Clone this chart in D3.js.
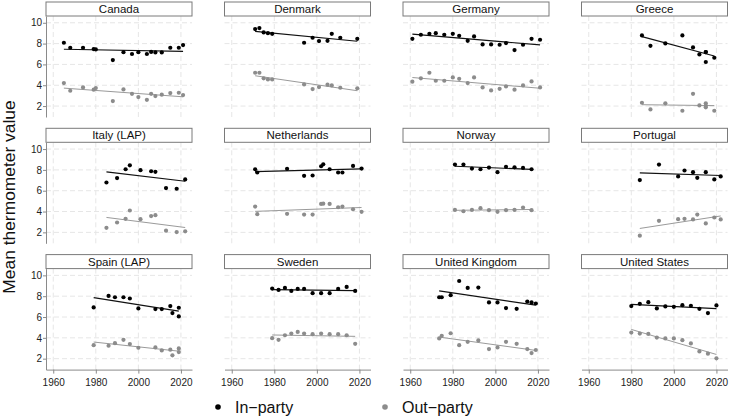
<!DOCTYPE html>
<html>
<head>
<meta charset="utf-8">
<script src="https://cdn.jsdelivr.net/npm/d3@7"></script>
<style>
  body { margin: 0; background: #fff; }
  svg { font-family: "Liberation Sans", Arial, sans-serif; }
</style>
</head>
<body>
<svg width="730" height="418"></svg>
<script>
// panel order, left to right, top to bottom
const countries = ["Canada", "Denmark", "Germany", "Greece",
  "Italy (LAP)", "Netherlands", "Norway", "Portugal",
  "Spain (LAP)", "Sweden", "United Kingdom", "United States"];

const canadaYears = [1965, 1968, 1974, 1979, 1980, 1988, 1993, 1997, 2000, 2004, 2006, 2008, 2011, 2015, 2019, 2021];
const canadaIn    = [8.08, 7.6, 7.6, 7.47, 7.44, 6.42, 7.18, 7.0, 7.18, 7.0, 7.2, 7.15, 7.15, 7.6, 7.6, 7.86];
const canadaOut   = [4.21, 3.47, 3.79, 3.57, 3.73, 2.48, 3.6, 3.18, 2.86, 2.6, 3.18, 2.96, 3.09, 3.25, 3.28, 3.06];

const denmarkYears = [1971, 1973, 1975, 1977, 1979, 1994, 1998, 2001, 2005, 2007, 2011, 2019];
const denmarkIn    = [9.39, 9.49, 9.07, 9.0, 8.94, 8.08, 8.56, 8.24, 8.27, 8.94, 8.56, 8.46];
const denmarkOut   = [5.2, 5.2, 4.66, 4.56, 4.56, 4.08, 3.63, 3.82, 4.05, 3.98, 3.76, 3.7];

const germanyYears = [1961, 1965, 1969, 1972, 1976, 1980, 1983, 1987, 1990, 1994, 1998, 2002, 2005, 2009, 2013, 2017, 2021];
const germanyIn    = [8.46, 8.85, 8.94, 9.0, 8.85, 8.94, 8.75, 8.27, 8.69, 7.92, 7.92, 7.89, 8.05, 7.38, 7.89, 8.46, 8.37];
const germanyOut   = [4.34, 4.66, 5.2, 4.43, 4.43, 4.75, 4.62, 4.21, 4.75, 3.79, 3.5, 3.66, 3.89, 3.57, 3.98, 4.37, 3.79];

const greeceYears = [1985, 1989, 1996, 2004, 2009, 2012, 2015, 2015, 2015, 2019];
const greeceIn    = [8.78, 7.79, 8.02, 8.78, 7.63, 6.96, 7.19, 7.19, 6.23, 6.64];
const greeceOut   = [2.32, 1.68, 2.26, 1.55, 3.18, 2.06, 2.26, 2.03, 1.88, 1.55];

const italyYears = [1985, 1990, 1994, 1996, 2001, 2006, 2008, 2013, 2018, 2022];
const italyIn    = [6.79, 7.21, 8.06, 8.44, 7.97, 7.87, 7.81, 6.25, 6.19, 7.08];
const italyOut   = [2.44, 2.95, 3.3, 4.1, 3.27, 3.56, 3.65, 2.16, 2.03, 2.1];

const netherlandsYears = [1971, 1972, 1986, 1994, 1998, 2002, 2003, 2006, 2010, 2012, 2017, 2021];
const netherlandsIn    = [8.06, 7.75, 8.1, 7.43, 7.46, 8.35, 8.54, 8.06, 7.75, 7.75, 8.38, 8.13];
const netherlandsOut   = [4.48, 3.75, 3.78, 3.71, 3.71, 4.73, 4.76, 4.73, 4.41, 4.48, 4.22, 3.97];

const norwayYears = [1981, 1985, 1989, 1993, 1997, 2001, 2005, 2009, 2013, 2017];
const norwayIn    = [8.51, 8.51, 8.13, 8.06, 8.22, 7.78, 8.29, 8.25, 8.19, 8.06];
const norwayOut   = [4.16, 4.03, 4.16, 4.32, 4.13, 3.97, 4.13, 4.16, 4.38, 4.13];

const portugalYears = [1984, 1993, 2002, 2005, 2009, 2011, 2015, 2019, 2022];
const portugalIn    = [7.02, 8.51, 7.37, 7.94, 7.78, 7.24, 7.78, 7.08, 7.37];
const portugalOut   = [1.68, 3.11, 3.27, 3.3, 3.24, 3.71, 2.86, 3.43, 3.24];

const spainYears = [1979, 1986, 1989, 1993, 1996, 2000, 2008, 2011, 2015, 2016, 2019, 2019];
const spainIn    = [6.92, 8.03, 7.9, 7.9, 7.78, 6.83, 6.76, 6.76, 7.05, 6.38, 6.89, 6.06];
const spainOut   = [3.3, 3.24, 3.49, 3.81, 3.4, 3.05, 3.08, 2.79, 2.86, 2.32, 2.98, 2.63];

const swedenYears = [1979, 1982, 1985, 1988, 1991, 1994, 1998, 2002, 2006, 2010, 2014, 2018];
const swedenIn    = [8.73, 8.6, 8.79, 8.51, 8.7, 8.7, 8.29, 8.29, 8.29, 8.7, 8.89, 8.51];
const swedenOut   = [3.97, 3.81, 4.25, 4.41, 4.57, 4.41, 4.35, 4.41, 4.35, 4.35, 4.25, 3.43];

const ukYears = [1973.6, 1974.8, 1979, 1983, 1987, 1992, 1997, 2001, 2005, 2010, 2015, 2017, 2019];
const ukIn    = [7.9, 7.9, 8.1, 9.46, 8.79, 8.83, 7.4, 7.4, 6.86, 6.79, 7.49, 7.4, 7.3];
const ukOut   = [3.94, 4.19, 4.44, 3.3, 3.62, 3.75, 2.92, 3.08, 3.62, 3.43, 2.92, 2.54, 2.83];

const usYears = [1980, 1984, 1988, 1992, 1996, 2000, 2004, 2008, 2012, 2016, 2020];
const usIn    = [7.05, 7.27, 7.43, 6.83, 7.02, 6.98, 7.14, 7.08, 6.79, 6.38, 7.11];
const usOut   = [4.51, 4.41, 4.38, 4.03, 3.94, 3.94, 3.78, 3.46, 2.7, 2.48, 2.03];

const yTicks = [2, 4, 6, 8, 10];
const xTicks = [1960, 1980, 2000, 2020];
const seriesNames = ["In\u2212party", "Out\u2212party"];

const yearList = [canadaYears, denmarkYears, germanyYears, greeceYears, italyYears, netherlandsYears,
  norwayYears, portugalYears, spainYears, swedenYears, ukYears, usYears];
const inList = [canadaIn, denmarkIn, germanyIn, greeceIn, italyIn, netherlandsIn,
  norwayIn, portugalIn, spainIn, swedenIn, ukIn, usIn];
const outList = [canadaOut, denmarkOut, germanyOut, greeceOut, italyOut, netherlandsOut,
  norwayOut, portugalOut, spainOut, swedenOut, ukOut, usOut];

const panels = countries.map((name, i) => ({
  name: name,
  series: [
    {key: "in", pts: yearList[i].map((yr, j) => ({year: yr, value: inList[i][j]}))},
    {key: "out", pts: yearList[i].map((yr, j) => ({year: yr, value: outList[i][j]}))}
  ]
}));

// layout
const pw = 146, ph = 101, hh = 14;
const colX = [46, 224.5, 403, 581.5];
const rowTop = [2, 128.3, 254.6];

const color = {in: "#000000", out: "#8c8c8c"};
const lineColor = {in: "#111111", out: "#9a9a9a"};
const gridColor = "#e6e6e6";
const axisColor = "#8a8a8a";

const x = d3.scaleLinear().domain([1956.6, 2025.2]).range([0, pw]);
const y = d3.scaleLinear().domain([0.95, 10.65]).range([ph, 0]);

// least squares trend
function fit(pts) {
  const mx = d3.mean(pts, d => d.year), my = d3.mean(pts, d => d.value);
  const sxy = d3.sum(pts, d => (d.year - mx) * (d.value - my));
  const sxx = d3.sum(pts, d => (d.year - mx) * (d.year - mx));
  const b = sxy / sxx, a = my - b * mx;
  const ext = d3.extent(pts, d => d.year);
  return ext.map(yr => ({year: yr, value: a + b * yr}));
}

const line = d3.line().x(d => x(d.year)).y(d => y(d.value));

const svg = d3.select("svg");

panels.forEach((p, i) => {
  const col = i % 4, row = Math.floor(i / 4);
  const g = svg.append("g")
    .attr("transform", "translate(" + colX[col] + "," + (rowTop[row] + hh) + ")");

  // dashed grid
  g.selectAll("line.gy").data(yTicks).join("line")
    .attr("class", "gy")
    .attr("x1", 0).attr("x2", pw)
    .attr("y1", d => y(d)).attr("y2", d => y(d))
    .attr("stroke", gridColor).attr("stroke-dasharray", "5,3");
  g.selectAll("line.gx").data(xTicks).join("line")
    .attr("class", "gx")
    .attr("y1", 0).attr("y2", ph)
    .attr("x1", d => x(d)).attr("x2", d => x(d))
    .attr("stroke", gridColor).attr("stroke-dasharray", "5,3");

  // strip header
  g.append("rect")
    .attr("x", 0).attr("y", -hh).attr("width", pw).attr("height", hh)
    .attr("fill", "#fff").attr("stroke", "#7a7a7a").attr("stroke-width", 1);
  g.append("text")
    .attr("x", pw / 2).attr("y", -hh / 2 + 4)
    .attr("text-anchor", "middle")
    .attr("font-size", 11.5).attr("fill", "#111")
    .text(p.name);

  if (col === 0) {
    const ya = g.append("g").call(d3.axisLeft(y).tickValues(yTicks).tickSize(3).tickSizeOuter(0));
    ya.select(".domain").attr("stroke", axisColor);
    ya.selectAll(".tick line").attr("stroke", axisColor);
    ya.selectAll(".tick text").attr("font-size", 10).attr("fill", "#222")
      .attr("font-family", "Liberation Sans, Arial, sans-serif").attr("x", -4);
  }
  if (row === 2) {
    const xa = g.append("g").attr("transform", "translate(0," + ph + ")")
      .call(d3.axisBottom(x).tickValues(xTicks).tickFormat(d3.format("d")).tickSize(4).tickSizeOuter(0));
    xa.select(".domain").attr("stroke", axisColor);
    xa.selectAll(".tick line").attr("stroke", axisColor);
    xa.selectAll(".tick text").attr("font-size", 10).attr("fill", "#222")
      .attr("font-family", "Liberation Sans, Arial, sans-serif").attr("dy", "0.9em");
  }

  p.series.forEach(s => {
    g.append("path")
      .datum(fit(s.pts))
      .attr("d", line)
      .attr("fill", "none")
      .attr("stroke", lineColor[s.key])
      .attr("stroke-width", s.key === "in" ? 1.2 : 1);
    g.selectAll("circle." + s.key).data(s.pts).join("circle")
      .attr("class", s.key)
      .attr("cx", d => x(d.year))
      .attr("cy", d => y(d.value))
      .attr("r", 2.1)
      .attr("fill", color[s.key]);
  });
});

// y title
svg.append("text")
  .attr("transform", "translate(14.5,197) rotate(-90)")
  .attr("text-anchor", "middle")
  .attr("font-size", 17.4).attr("fill", "#111")
  .text("Mean thermometer value");

// legend
const legendX = [218, 385];
seriesNames.forEach((name, i) => {
  svg.append("circle")
    .attr("cx", legendX[i]).attr("cy", 407)
    .attr("r", 2.8)
    .attr("fill", i === 0 ? color.in : color.out);
  svg.append("text")
    .attr("x", legendX[i] + 17).attr("y", 413)
    .attr("font-size", 16).attr("fill", "#111")
    .text(name);
});
</script>
</body>
</html>
